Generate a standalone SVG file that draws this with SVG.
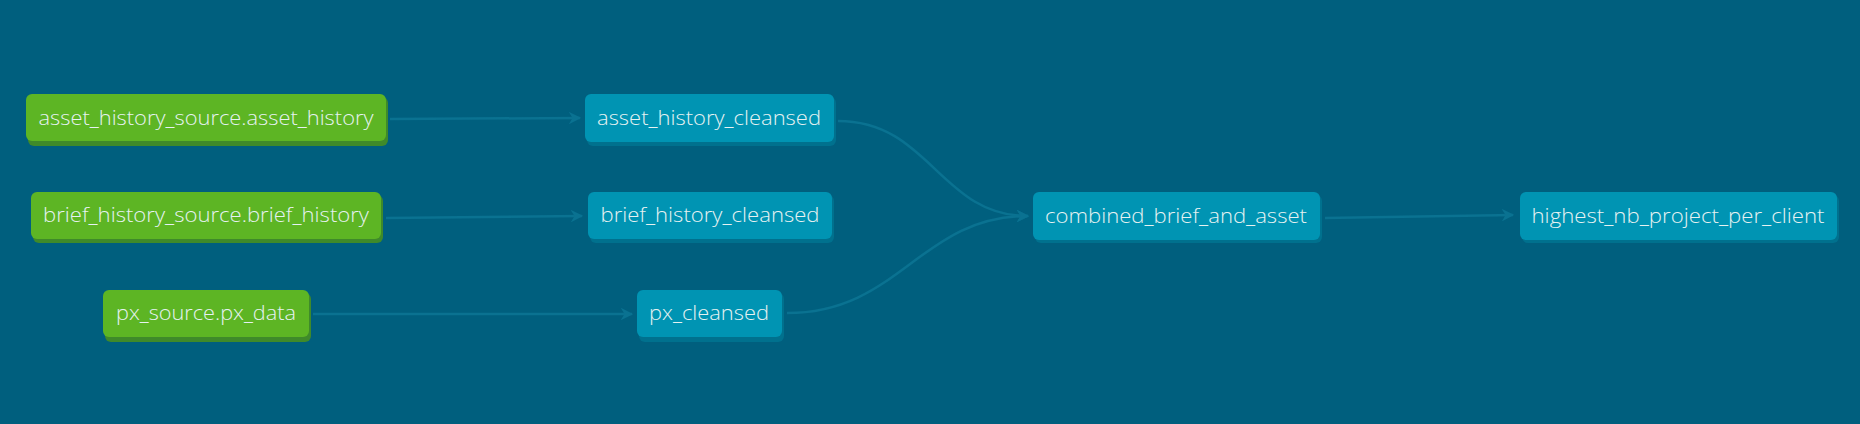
<svg xmlns="http://www.w3.org/2000/svg" width="1860" height="424" viewBox="0 0 1860 424">
<style>
.bg{fill:#005f7e}
.src .sh{fill:#3f8a2a}
.src .bx{fill:#5db524}
.mdl .sh{fill:#00718e}
.mdl .bx{fill:#0094b3}
text{font-family:"Open Sans","Liberation Sans",sans-serif;font-size:20px;font-weight:300;fill:#e6f2f2;text-anchor:middle}
.edge{fill:none;stroke:#0a7291;stroke-width:2.5}
</style>
<defs>
<marker id="arr" viewBox="0 0 10 10" refX="9" refY="5" markerWidth="5" markerHeight="5" orient="auto" markerUnits="strokeWidth">
<path d="M0,0 L10,5 L0,10 L3,5 Z" fill="#0a7291"/>
</marker>
</defs>
<rect class="bg" x="0" y="0" width="1860" height="424"/>
<g id="connectors">
<path class="edge" d="M390,119 L580,118" marker-end="url(#arr)"/>
<path class="edge" d="M386,218 L582,216" marker-end="url(#arr)"/>
<path class="edge" d="M313,314 L632,314" marker-end="url(#arr)"/>
<path class="edge" d="M838,121 C930,121 940,216 1028,216" marker-end="url(#arr)"/>
<path class="edge" d="M787,313 C900,313 920,216 1028,216" marker-end="url(#arr)"/>
<path class="edge" d="M1325,218 L1513,215" marker-end="url(#arr)"/>
</g>
<g id="asset_history_source" class="src">
<rect class="sh" x="28" y="97" width="360" height="49" rx="6"/>
<rect class="bx" x="26" y="94" width="360" height="47" rx="6"/>
<text x="206" y="125" textLength="335" lengthAdjust="spacingAndGlyphs">asset_history_source.asset_history</text>
</g>
<g id="brief_history_source" class="src">
<rect class="sh" x="33" y="195" width="350" height="48" rx="6"/>
<rect class="bx" x="31" y="192" width="350" height="47" rx="6"/>
<text x="206" y="222" textLength="326" lengthAdjust="spacingAndGlyphs">brief_history_source.brief_history</text>
</g>
<g id="px_source" class="src">
<rect class="sh" x="105" y="293" width="206" height="49" rx="6"/>
<rect class="bx" x="103" y="290" width="206" height="47" rx="6"/>
<text x="206" y="320" textLength="180" lengthAdjust="spacingAndGlyphs">px_source.px_data</text>
</g>
<g id="asset_history_cleansed" class="mdl">
<rect class="sh" x="587" y="97" width="249" height="49" rx="6"/>
<rect class="bx" x="585" y="94" width="249" height="48" rx="6"/>
<text x="709" y="125" textLength="224" lengthAdjust="spacingAndGlyphs">asset_history_cleansed</text>
</g>
<g id="brief_history_cleansed" class="mdl">
<rect class="sh" x="590" y="195" width="244" height="48" rx="6"/>
<rect class="bx" x="588" y="192" width="244" height="47" rx="6"/>
<text x="710" y="222" textLength="219" lengthAdjust="spacingAndGlyphs">brief_history_cleansed</text>
</g>
<g id="px_cleansed" class="mdl">
<rect class="sh" x="639" y="293" width="145" height="49" rx="6"/>
<rect class="bx" x="637" y="290" width="145" height="47" rx="6"/>
<text x="709" y="320" textLength="120" lengthAdjust="spacingAndGlyphs">px_cleansed</text>
</g>
<g id="combined_brief_and_asset" class="mdl">
<rect class="sh" x="1035" y="195" width="287" height="48" rx="6"/>
<rect class="bx" x="1033" y="192" width="287" height="48" rx="6"/>
<text x="1176" y="223" textLength="262" lengthAdjust="spacingAndGlyphs">combined_brief_and_asset</text>
</g>
<g id="highest_nb_project_per_client" class="mdl">
<rect class="sh" x="1522" y="195" width="317" height="48" rx="6"/>
<rect class="bx" x="1520" y="192" width="317" height="48" rx="6"/>
<text x="1678" y="223" textLength="293" lengthAdjust="spacingAndGlyphs">highest_nb_project_per_client</text>
</g>
</svg>
